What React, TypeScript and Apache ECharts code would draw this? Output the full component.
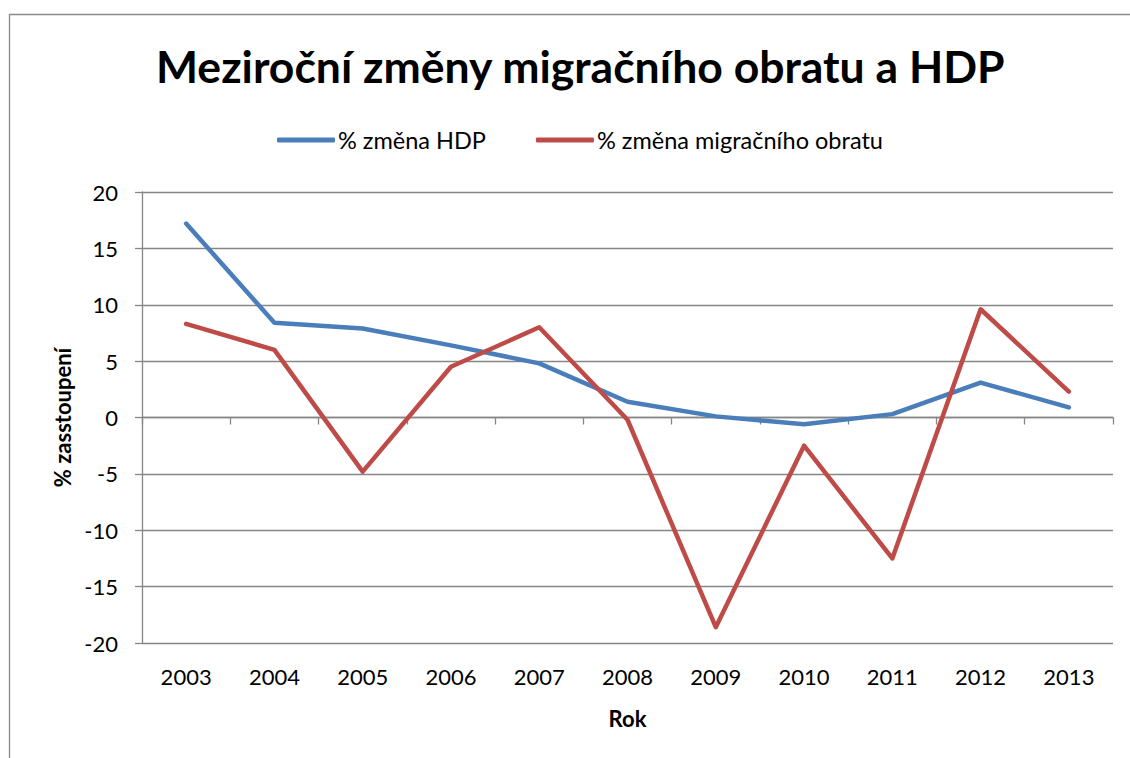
import React, { useEffect, useRef } from "react";
import * as echarts from "echarts";

const years = ["2003", "2004", "2005", "2006", "2007", "2008", "2009", "2010", "2011", "2012", "2013"];
const hdpChange = [17.2, 8.4, 7.9, 6.4, 4.8, 1.4, 0.1, -0.6, 0.3, 3.1, 0.9];
const migrationChange = [8.3, 6.0, -4.8, 4.5, 8.0, -0.2, -18.6, -2.5, -12.5, 9.6, 2.3];
const seriesNames = ["% změna HDP", "% změna migračního obratu"];
const colors = ["#4a7ebb", "#be4b48"];

const FONT = "Lato";

export default function App() {
  const ref = useRef<HTMLDivElement>(null);
  useEffect(() => {
    if (!ref.current) return;
    const chart = echarts.init(ref.current, undefined, { renderer: "svg" });
    chart.setOption({
      animation: false,
      backgroundColor: "#ffffff",
      textStyle: { fontFamily: FONT },
      color: colors,
      title: {
        text: "Meziroční změny migračního obratu a HDP",
        left: 151,
        top: 38,
        textStyle: { fontFamily: FONT, fontWeight: "bold", fontSize: 44.5, color: "#000" },
      },
      legend: {
        top: 123,
        left: 272,
        itemWidth: 58,
        itemHeight: 5,
        itemGap: 50,
        icon: "roundRect",
        textStyle: { fontFamily: FONT, fontSize: 23.5, color: "#000", padding: [0, 0, 0, -2] },
        data: seriesNames,
      },
      graphic: [
        {
          type: "rect",
          shape: { x: 9.5, y: 14.5, width: 1300, height: 900 },
          style: { fill: "none", stroke: "#8a8a8a", lineWidth: 1.3 },
          silent: true,
        },
      ],
      grid: { left: 142, right: 17, top: 192, bottom: 115, containLabel: false },
      xAxis: [
        {
          type: "category",
          data: years,
          position: "bottom",
          boundaryGap: true,
          axisLine: { show: false, onZero: false },
          axisTick: { show: false },
          axisLabel: { fontFamily: FONT, fontSize: 22, color: "#000", margin: 22 },
          splitLine: { show: false },
          name: "Rok",
          nameLocation: "middle",
          nameGap: 64,
          nameTextStyle: { fontFamily: FONT, fontWeight: "bold", fontSize: 22, color: "#000" },
        },
        {
          type: "category",
          data: years,
          position: "bottom",
          boundaryGap: true,
          axisLine: { show: true, onZero: true, lineStyle: { color: "#868686", width: 1.3 } },
          axisTick: { show: true, inside: false, length: 7, lineStyle: { color: "#868686", width: 1.3 } },
          axisLabel: { show: false },
          splitLine: { show: false },
        },
      ],
      yAxis: {
        type: "value",
        min: -20,
        max: 20,
        interval: 5,
        axisLine: { show: true, lineStyle: { color: "#868686", width: 1.3 } },
        axisTick: { show: true, inside: false, length: 7, lineStyle: { color: "#868686", width: 1.3 } },
        axisLabel: { fontFamily: FONT, fontSize: 22, color: "#000", margin: 24 },
        splitLine: { show: true, lineStyle: { color: "#868686", width: 1.3 } },
        name: "% zasstoupení",
        nameLocation: "middle",
        nameGap: 68,
        nameTextStyle: { fontFamily: FONT, fontWeight: "bold", fontSize: 22, color: "#000" },
      },
      series: [
        {
          name: seriesNames[0],
          type: "line",
          xAxisIndex: 0,
          data: hdpChange,
          showSymbol: false,
          symbol: "none",
          lineStyle: { width: 4.5, color: colors[0], cap: "round", join: "round" },
          itemStyle: { color: colors[0] },
        },
        {
          name: seriesNames[1],
          type: "line",
          xAxisIndex: 0,
          data: migrationChange,
          showSymbol: false,
          symbol: "none",
          lineStyle: { width: 4.5, color: colors[1], cap: "round", join: "round" },
          itemStyle: { color: colors[1] },
        },
      ],
    });
    return () => chart.dispose();
  }, []);
  return (
    <div
      ref={ref}
      style={{ position: "absolute", left: 0, top: 0, width: 1130, height: 758 }}
    />
  );
}
